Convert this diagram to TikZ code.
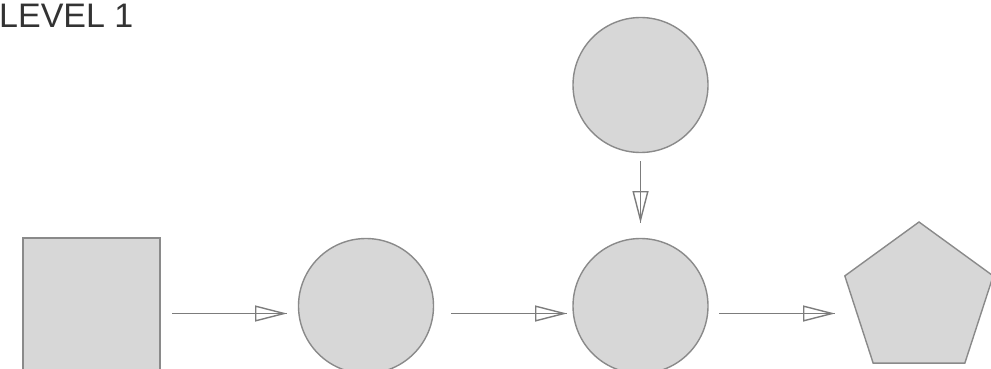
\documentclass[tikz,border=0pt]{standalone}
\usepackage{fontspec}
\setmainfont{Liberation Sans}
\usetikzlibrary{arrows.meta,shapes.geometric}
\definecolor{shapefill}{HTML}{D7D7D7}
\definecolor{shapeline}{HTML}{8A8A8A}
\definecolor{arrowline}{HTML}{7C7C7C}
\definecolor{textgray}{HTML}{333333}
\tikzset{
  shapebox/.style={draw=shapeline, fill=shapefill, line width=1.4pt, inner sep=0pt, outer sep=0pt},
  roundnode/.style={shapebox, circle, minimum size=135pt},
  shaft/.style={draw=arrowline, line width=1.8pt},
  conn/.style={shaft, -{Triangle[open, length=32pt, width=16pt, line width=1.4pt]}},
}
\begin{document}
\begin{tikzpicture}[x=1pt, y=-1pt]
\useasboundingbox (0,0) rectangle (991,369);
\node[anchor=north west, inner sep=0pt, text=textgray, font=\fontsize{34}{34}\selectfont] (title) at (-1,4) {LEVEL 1};
\node[shapebox, rectangle, anchor=north west, minimum width=137pt, minimum height=140pt] (rect) at (23,238) {};
\node[roundnode] (c1) at (366,306) {};
\node[roundnode] (c2) at (640.5,306) {};
\node[roundnode] (ctop) at (640.5,85) {};
\node[shapebox, regular polygon, regular polygon sides=5, minimum size=156pt] (pent) at (919,300) {};
% connector end points
\coordinate (a1s) at (172,313.5);
\coordinate (a1e) at (287,313.5);
\coordinate (a2s) at (451,313.5);
\coordinate (a2e) at (567,313.5);
\coordinate (a3s) at (719,313.5);
\coordinate (a3e) at (835,313.5);
\coordinate (a4s) at (640.5,161);
\coordinate (a4e) at (640.5,223);
\foreach \s/\e in {a1s/a1e, a2s/a2e, a3s/a3e, a4s/a4e}{
  \draw[shaft] (\s) -- (\e);
  \draw[conn] (\s) -- (\e);
}
\end{tikzpicture}
\end{document}
